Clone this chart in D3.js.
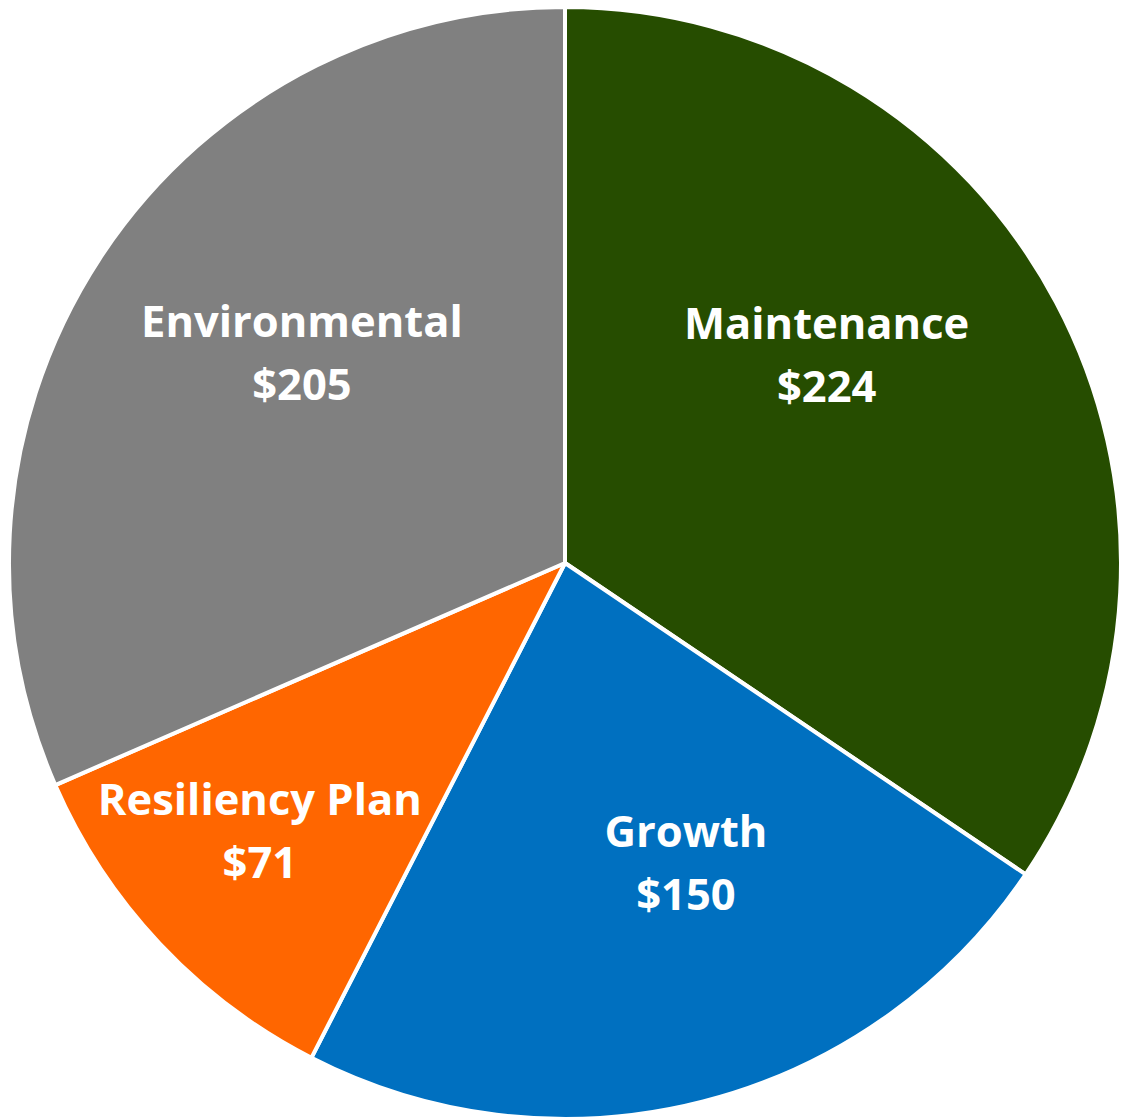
<!DOCTYPE html>
<html>
<head>
<meta charset="utf-8">
<script src="https://cdn.jsdelivr.net/npm/d3@7"></script>
<style>
  body { margin: 0; background: white; overflow: hidden; }
</style>
</head>
<body>
<script>
//Data
var categories = ["Maintenance", "Growth", "Resiliency Plan", "Environmental"];
var values = [224, 150, 71, 205];
var valueLabels = ["$224", "$150", "$71", "$205"];

//Styles
var colors = ["#264d00", "#0070c0", "#ff6600", "#808080"];
var w = 1121;
var h = 1118;
var cx = 565;
var cy = 563;
var radius = 556;
var sliceStroke = "white";
var sliceStrokeWidth = 4;
var fontFamily = "'Open Sans', Lato, sans-serif";
var fontSize = 43.5;
var lineGap = 63;

//Label nudges from the centroid, like Excel best fit places them
var labelNudge = [[-33, -53], [38, -24], [-62, 39], [16, -28]];

var svg = d3.select("body").append("svg")
    .attr("width", w)
    .attr("height", h);

var g = svg.append("g")
    .attr("transform", "translate(" + cx + "," + cy + ")");

var pie = d3.pie()
    .sort(null)
    .value(function (d) { return d; });

var arcs = pie(values);

var arc = d3.arc()
    .innerRadius(0)
    .outerRadius(radius);

var labelArc = d3.arc()
    .innerRadius(radius * 0.6)
    .outerRadius(radius * 0.6);

g.selectAll("path")
    .data(arcs)
    .enter().append("path")
    .attr("d", arc)
    .attr("fill", function (d, i) { return colors[i]; })
    .attr("stroke", sliceStroke)
    .attr("stroke-width", sliceStrokeWidth)
    .attr("stroke-linejoin", "round");

var labels = g.selectAll("g.label")
    .data(arcs)
    .enter().append("g")
    .attr("class", "label")
    .attr("transform", function (d, i) {
        var c = labelArc.centroid(d);
        return "translate(" + (c[0] + labelNudge[i][0]) + "," + (c[1] + labelNudge[i][1]) + ")";
    })
    .style("font-family", fontFamily)
    .style("font-weight", "bold")
    .style("font-size", fontSize + "px")
    .attr("fill", "white")
    .attr("text-anchor", "middle");

labels.append("text")
    .attr("y", -lineGap / 2)
    .attr("dominant-baseline", "central")
    .text(function (d, i) { return categories[i]; });

labels.append("text")
    .attr("y", lineGap / 2)
    .attr("dominant-baseline", "central")
    .text(function (d, i) { return valueLabels[i]; });
</script>
</body>
</html>
